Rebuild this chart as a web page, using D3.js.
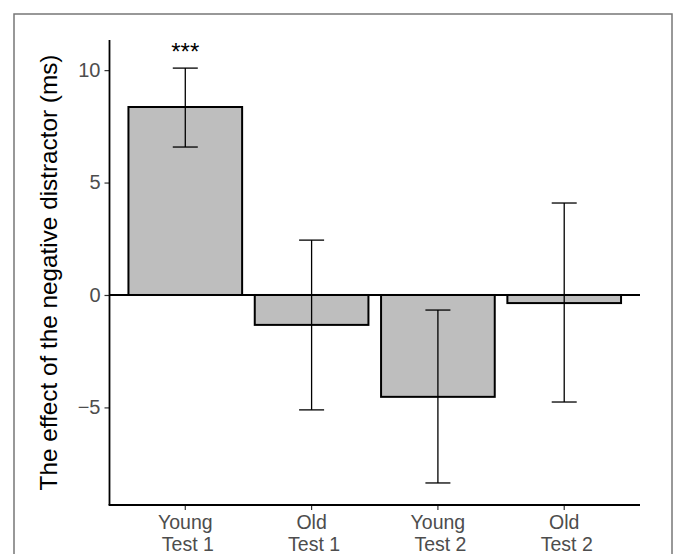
<!DOCTYPE html>
<html>
<head>
<meta charset="utf-8">
<script src="https://cdn.jsdelivr.net/npm/d3@7"></script>
<style>
  body { margin: 0; background: #fff; }
  svg text { font-family: "Liberation Sans", Arial, sans-serif; }
</style>
</head>
<body>
<svg id="chart" width="674" height="554"></svg>
<script>
const categories = ["Young\n Test 1", "Old\n Test 1", "Young\n Test 2", "Old\n Test 2"];
const means = [8.36, -1.33, -4.53, -0.36];
const errLow = [6.58, -5.11, -8.36, -4.76];
const errHigh = [10.09, 2.44, -0.67, 4.09];
const significance = ["***", "", "", ""];
const yTicks = [-5, 0, 5, 10];
const yLabel = "The effect of the negative distractor (ms)";

(function () {
const svg = d3.select("#chart");
const mLeft = 109.5, mRight = 640, mTop = 40, mBottom = 505;

// outer frame
svg.append("rect").attr("x", 14).attr("y", 14).attr("width", 658).attr("height", 560)
  .attr("fill", "none").attr("stroke", "#777").attr("stroke-width", 1.5);

const x = d3.scaleBand().domain(categories).range([mLeft, mRight])
  .paddingInner(0.1).paddingOuter(0.15);
// y domain with 5% expansion like ggplot
const yMin = -8.4, yMax = 10.4, ex = (yMax - yMin) * 0.05;
const y = d3.scaleLinear().domain([yMin - ex, yMax + ex]).range([mBottom, mTop]);

// bars
svg.append("g").selectAll("rect").data(categories).join("rect")
  .attr("x", d => x(d))
  .attr("width", x.bandwidth())
  .attr("y", (d, i) => y(Math.max(0, means[i])))
  .attr("height", (d, i) => Math.abs(y(means[i]) - y(0)))
  .attr("fill", "#bebebe").attr("stroke", "#000").attr("stroke-width", 2);

// zero line
svg.append("line").attr("x1", mLeft).attr("x2", mRight).attr("y1", y(0)).attr("y2", y(0))
  .attr("stroke", "#000").attr("stroke-width", 1.8);

// error bars
const cap = x.bandwidth() * 0.22 / 2;
const eg = svg.append("g").attr("stroke", "#000").attr("stroke-width", 1.3);
categories.forEach((c, i) => {
  const cx = x(c) + x.bandwidth() / 2;
  eg.append("line").attr("x1", cx).attr("x2", cx).attr("y1", y(errLow[i])).attr("y2", y(errHigh[i]));
  eg.append("line").attr("x1", cx - cap).attr("x2", cx + cap).attr("y1", y(errLow[i])).attr("y2", y(errLow[i]));
  eg.append("line").attr("x1", cx - cap).attr("x2", cx + cap).attr("y1", y(errHigh[i])).attr("y2", y(errHigh[i]));
  if (significance[i]) {
    svg.append("text").attr("x", cx).attr("y", y(errHigh[i]) - 8.5)
      .attr("text-anchor", "middle").attr("font-size", 24).attr("fill", "#000")
      .text(significance[i]);
  }
});

// y axis
const yAxis = d3.axisLeft(y).tickValues(yTicks).tickSize(5).tickPadding(4).tickFormat(d => d < 0 ? "\u2212" + Math.abs(d) : d);
const yg = svg.append("g").attr("transform", `translate(${mLeft},0)`).call(yAxis);
yg.select(".domain").remove();
yg.selectAll(".tick line").attr("stroke", "#333").attr("stroke-width", 1.2);
yg.selectAll(".tick text").attr("fill", "#4d4d4d").attr("font-size", 20)
  .attr("font-family", "Liberation Sans, Arial, sans-serif");
svg.append("line").attr("x1", mLeft).attr("x2", mLeft).attr("y1", mTop).attr("y2", mBottom)
  .attr("stroke", "#000").attr("stroke-width", 1.8);

// x axis
const xAxis = d3.axisBottom(x).tickSize(5).tickFormat("");
const xg = svg.append("g").attr("transform", `translate(0,${mBottom})`).call(xAxis);
xg.select(".domain").remove();
xg.selectAll(".tick line").attr("stroke", "#333").attr("stroke-width", 1.2);
svg.append("line").attr("x1", mLeft - 0.9).attr("x2", mRight).attr("y1", mBottom).attr("y2", mBottom)
  .attr("stroke", "#000").attr("stroke-width", 1.8);

categories.forEach(c => {
  const cx = x(c) + x.bandwidth() / 2;
  c.split("\n").forEach((line, j) => {
    svg.append("text").attr("x", cx).attr("y", 528.5 + j * 22).attr("text-anchor", "middle")
      .attr("font-size", 19.5).attr("fill", "#4d4d4d").style("white-space", "pre").text(line);
  });
});

// y label
svg.append("text").attr("transform", `translate(56.5,${(mTop + mBottom) / 2}) rotate(-90)`)
  .attr("text-anchor", "middle").attr("font-size", 24.3).attr("fill", "#000").text(yLabel);
})();
</script>
</body>
</html>
